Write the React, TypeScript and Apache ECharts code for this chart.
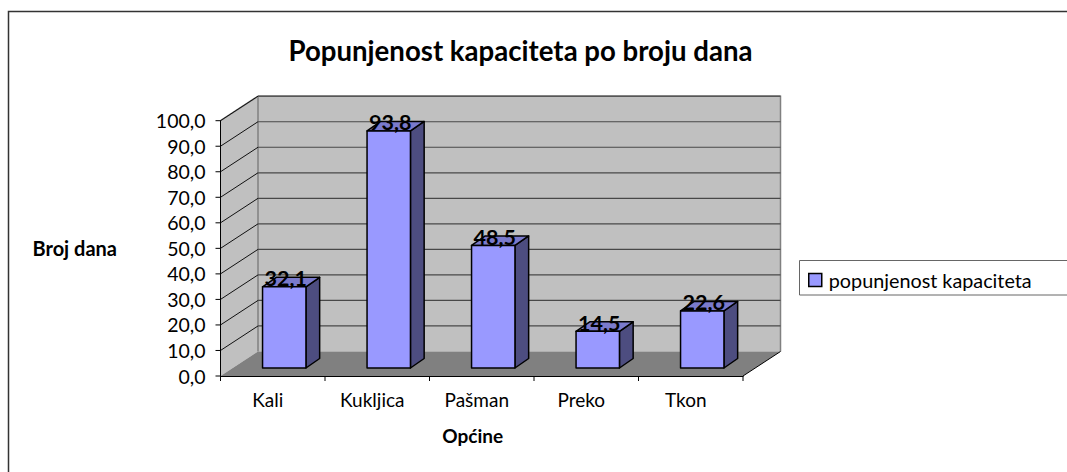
import React, { useEffect, useRef } from "react";
import * as echarts from "echarts";

const categories = ["Kali", "Kukljica", "Pašman", "Preko", "Tkon"];
const values = [32.1, 93.8, 48.5, 14.5, 22.6];
const gridTicks = [0, 10, 20, 30, 40, 50, 60, 70, 80, 90, 100];
const seriesName = "popunjenost kapaciteta";

const FONT = "Lato";
const DX = 37.5;
const DY = -24.5;
const BAR_DX = 13.7;
const BAR_DY = -9.5;
const BAR_FRONT_X = 11.5;
const BAR_FRONT_Y = -8;
const BAR_W = 43.4;
const BAR_SCALE = 0.99;
const TICK = 5;

function wallsItem(params: any, api: any) {
  const c = params.coordSys;
  const l = c.x, r = c.x + c.width, b = c.y + c.height, t = c.y;
  const poly = (points: number[][], fill: string, stroke?: string, w = 1) => ({
    type: "polygon",
    shape: { points },
    style: { fill, stroke: stroke || "none", lineWidth: w },
  });
  return {
    type: "group",
    children: [
      poly([[l, b], [l + DX, b + DY], [l + DX, t + DY], [l, t]], "#c0c0c0"),
      poly([[l + DX, b + DY], [r + DX, b + DY], [r + DX, t + DY], [l + DX, t + DY]], "#c0c0c0"),
      poly([[l, b], [r, b], [r + DX, b + DY], [l + DX, b + DY]], "#808080"),
      {
        type: "polyline",
        shape: { points: [[l, t], [l + DX, t + DY], [r + DX, t + DY], [r + DX, b + DY]] },
        style: { stroke: "#808080", lineWidth: 1.5, fill: "none" },
      },
      {
        type: "line",
        shape: { x1: l + DX, y1: t + DY, x2: l + DX, y2: b + DY },
        style: { stroke: "#808080", lineWidth: 1.5 },
      },
      {
        type: "polyline",
        shape: { points: [[r, b], [r + DX, b + DY]] },
        style: { stroke: "#000", lineWidth: 1, fill: "none" },
      },
    ],
  };
}

function gridItem(params: any, api: any) {
  const v = api.value(1);
  const c = params.coordSys;
  const p = api.coord([0, v]);
  const l = c.x, r = c.x + c.width, y = p[1];
  const children: any[] = [
    {
      type: "line",
      shape: { x1: l - TICK, y1: y, x2: l, y2: y },
      style: { stroke: "#000", lineWidth: 1 },
    },
  ];
  if (v > 0) {
    children.push({
      type: "line",
      shape: { x1: l, y1: y, x2: l + DX, y2: y + DY },
      style: { stroke: "#111", lineWidth: 1 },
    });
    children.push({
      type: "line",
      shape: { x1: l + DX, y1: y + DY, x2: r + DX, y2: y + DY },
      style: { stroke: "#484848", lineWidth: 1.2 },
    });
  }
  return { type: "group", children };
}

function xTickItem(params: any, api: any) {
  const c = params.coordSys;
  const band = api.size([1, 0])[0];
  const x = c.x + api.value(0) * band;
  const b = c.y + c.height;
  return {
    type: "line",
    shape: { x1: x, y1: b, x2: x, y2: b + TICK },
    style: { stroke: "#000", lineWidth: 1 },
  };
}

function barItem(params: any, api: any) {
  const idx = api.value(0);
  const v = api.value(1);
  const base = api.coord([idx, 0]);
  const top = api.coord([idx, v]);
  const x0 = base[0] + BAR_FRONT_X - BAR_W / 2;
  const x1 = x0 + BAR_W;
  const yb = base[1] + BAR_FRONT_Y;
  const yt = yb - (base[1] - top[1]) * BAR_SCALE;
  const border = { stroke: "#000", lineWidth: 1.5, lineJoin: "round" };
  return {
    type: "group",
    children: [
      {
        type: "polygon",
        shape: { points: [[x1, yb], [x1 + BAR_DX, yb + BAR_DY], [x1 + BAR_DX, yt + BAR_DY], [x1, yt]] },
        style: { fill: "#4d4d80", ...border },
      },
      {
        type: "polygon",
        shape: { points: [[x0, yt], [x1, yt], [x1 + BAR_DX, yt + BAR_DY], [x0 + BAR_DX, yt + BAR_DY]] },
        style: { fill: "#7a7acc", ...border },
      },
      {
        type: "rect",
        shape: { x: x0, y: yt, width: BAR_W, height: yb - yt },
        style: { fill: "#9999ff", ...border },
      },
      {
        type: "text",
        x: (x0 + x1) / 2 + 1.5,
        y: yt - 8.5,
        style: {
          text: v.toFixed(1).replace(".", ","),
          fontFamily: FONT,
          fontWeight: 700,
          fontSize: 21.5,
          fill: "#000",
          align: "center",
          verticalAlign: "middle",
        },
      },
    ],
  };
}

export default function App() {
  const ref = useRef<HTMLDivElement>(null);
  useEffect(() => {
    const chart = echarts.init(ref.current!, undefined, { renderer: "svg" });
    chart.setOption({
      animation: false,
      backgroundColor: "#fff",
      textStyle: { fontFamily: FONT },
      title: {
        text: "Popunjenost kapaciteta po broju dana",
        left: 515.5,
        top: 31,
        textAlign: "center",
        textStyle: { fontFamily: FONT, fontWeight: 700, fontSize: 27.6, color: "#000" },
      },
      grid: { left: 220.5, top: 120.7, width: 522.5, height: 255.3 },
      xAxis: {
        type: "category",
        data: categories,
        z: 5,
        name: "Općine",
        nameLocation: "middle",
        nameGap: 50,
        nameTextStyle: { fontFamily: FONT, fontWeight: 700, fontSize: 19, color: "#000", padding: [0, 18, 0, 0] },
        axisLine: { lineStyle: { color: "#000", width: 1 } },
        axisTick: { show: false },
        axisLabel: { fontFamily: FONT, fontSize: 19, color: "#000", margin: 14, padding: [0, 10, 0, 0] },
      },
      yAxis: {
        type: "value",
        min: 0,
        max: 100,
        interval: 10,
        z: 5,
        name: "Broj dana",
        nameLocation: "middle",
        nameRotate: 0,
        nameGap: 103.5,
        nameTextStyle: { fontFamily: FONT, fontWeight: 700, fontSize: 20, color: "#000" },
        axisLine: { show: true, lineStyle: { color: "#000", width: 1 } },
        axisTick: { show: false },
        splitLine: { show: false },
        axisLabel: {
          fontFamily: FONT,
          fontSize: 19.5,
          color: "#000",
          margin: 15,
          formatter: (v: number) => v.toFixed(1).replace(".", ","),
        },
      },
      legend: {
        left: 808,
        top: 270,
        padding: 0,
        itemWidth: 13,
        itemHeight: 13,
        itemGap: 0,
        data: [
          {
            name: seriesName,
            icon: "rect",
            itemStyle: { color: "#9999ff", borderColor: "#000", borderWidth: 1.5 },
          },
        ],
        textStyle: { fontFamily: FONT, fontSize: 19.8, color: "#000", padding: [0, 0, 0, 2] },
      },
      graphic: [
        {
          type: "polyline",
          silent: true,
          shape: { points: [[8.5, 472], [8.5, 11.5], [1067, 11.5]] },
          style: { stroke: "#333", lineWidth: 1.5, fill: "none" },
        },
        {
          type: "polyline",
          silent: true,
          z: -1,
          shape: { points: [[1067, 260.5], [799.5, 260.5], [799.5, 295], [1067, 295]] },
          style: { stroke: "#666", lineWidth: 1, fill: "#fff" },
        },
      ],
      series: [
        { type: "custom", name: "zidovi", z: 1, silent: true, renderItem: wallsItem, data: [[0, 0]] },
        {
          type: "custom",
          name: "mreža",
          z: 2,
          silent: true,
          renderItem: gridItem,
          data: gridTicks.map((t) => [0, t]),
        },
        {
          type: "custom",
          name: "crtice",
          z: 5,
          silent: true,
          renderItem: xTickItem,
          data: [...categories.map((_, i) => [i, 0]), [categories.length, 0]],
        },
        {
          type: "custom",
          name: seriesName,
          z: 6,
          renderItem: barItem,
          encode: { x: 0, y: 1 },
          itemStyle: { color: "#9999ff" },
          data: values.map((v, i) => [i, v]),
        },
      ],
    });
    return () => chart.dispose();
  }, []);
  return (
    <div
      ref={ref}
      style={{ position: "absolute", left: 0, top: 0, width: 1067, height: 472, overflow: "hidden" }}
    />
  );
}
